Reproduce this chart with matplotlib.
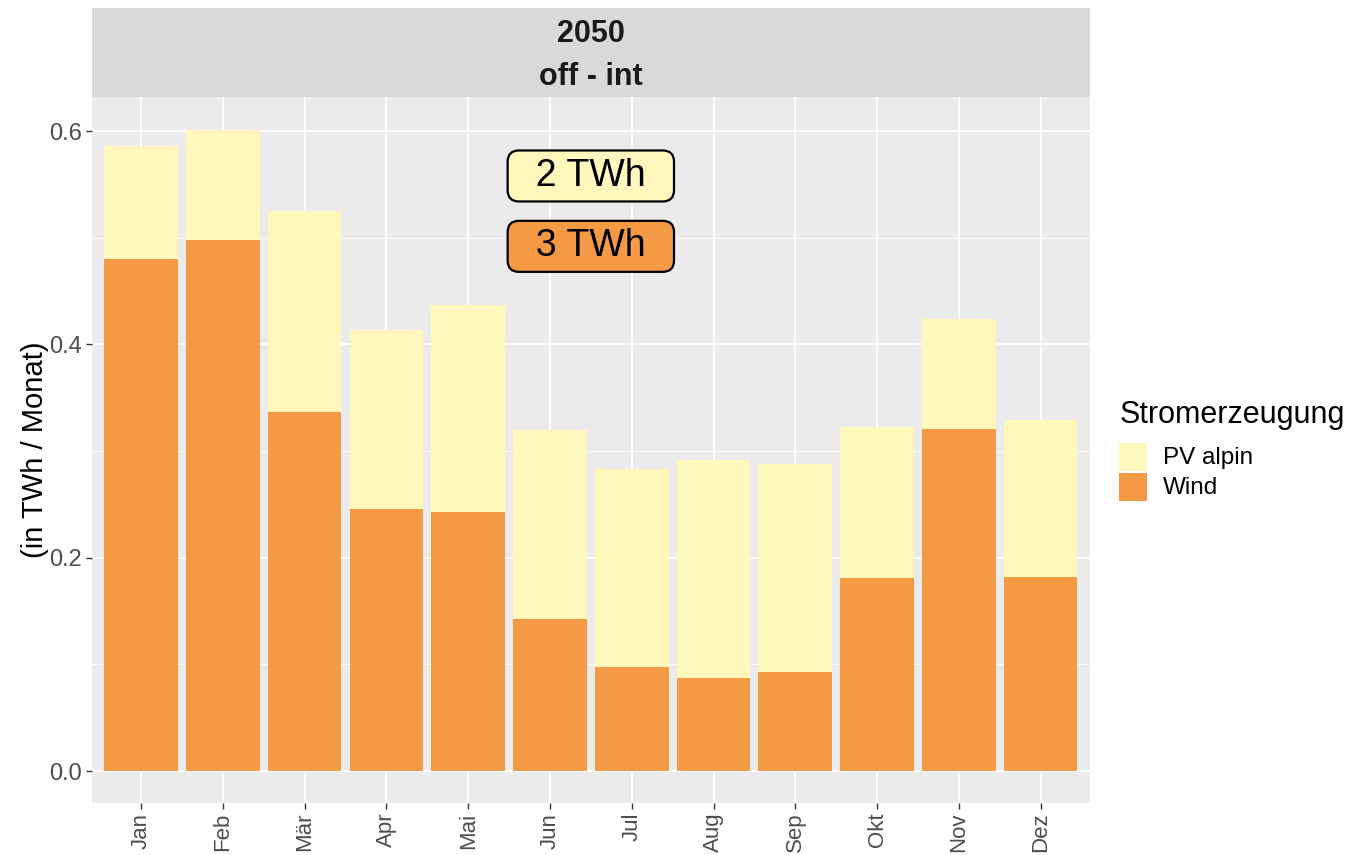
import numpy as np
import matplotlib
matplotlib.use("Agg")
import matplotlib.pyplot as plt
from matplotlib.patches import Rectangle

plt.rcParams['font.family'] = ['Liberation Sans', 'DejaVu Sans']

# Daten
monate = ["Jan", "Feb", "Mär", "Apr", "Mai", "Jun", "Jul", "Aug", "Sep", "Okt", "Nov", "Dez"]
wind = [0.480, 0.498, 0.337, 0.246, 0.243, 0.143, 0.098, 0.087, 0.093, 0.181, 0.321, 0.182]
pv_alpin = [0.106, 0.103, 0.188, 0.168, 0.194, 0.177, 0.185, 0.205, 0.195, 0.142, 0.103, 0.147]
summen = ["2 TWh", "3 TWh"]
summen_y = [0.558, 0.492]
serien = ["PV alpin", "Wind"]

farbe_pv = "#FFF7BC"
farbe_wind = "#F49A45"

W, H = 1352, 855
fig = plt.figure(figsize=(W / 100, H / 100), dpi=100)
ax = fig.add_axes([0.068, 0.0608, 0.738, 0.8257])

x = np.arange(1, len(monate) + 1)
ax.bar(x, wind, width=0.9, color=farbe_wind, zorder=3)
ax.bar(x, pv_alpin, width=0.9, bottom=wind, color=farbe_pv, zorder=3)

# Textboxen mit Summen
for txt, yy, fc in zip(summen, summen_y, [farbe_pv, farbe_wind]):
    ax.text(6.5, yy, "  " + txt + "  ", ha="center", va="center", fontsize=27, zorder=5,
            bbox=dict(boxstyle="round,pad=0.2,rounding_size=0.3", fc=fc, ec="black", lw=1.6))

ax.set_xlim(0.4, 12.6)
ax.set_ylim(-0.030, 0.632)
ax.set_facecolor("#EBEBEB")
for s in ax.spines.values():
    s.set_visible(False)
ax.set_xticks(x)
ax.set_xticklabels(monate, rotation=90, fontsize=16, color="#4D4D4D")
ax.set_yticks([0.0, 0.2, 0.4, 0.6])
ax.set_yticklabels(["0.0", "0.2", "0.4", "0.6"], fontsize=17, color="#4D4D4D")
ax.set_yticks([0.1, 0.3, 0.5], minor=True)
ax.tick_params(axis="both", which="major", color="#333333", length=4, width=1, pad=3)
ax.tick_params(axis="y", which="minor", length=0)
ax.grid(True, which="major", color="white", lw=1.3, zorder=0)
ax.grid(True, which="minor", axis="y", color="white", lw=0.6, zorder=0)
ax.set_axisbelow(True)
ax.set_ylabel("(in TWh / Monat)", fontsize=21, labelpad=0)

# Streifen oben
strip = fig.add_axes([0.068, 0.8865, 0.738, 0.1041])
strip.set_facecolor("#D9D9D9")
strip.set_xticks([])
strip.set_yticks([])
for s in strip.spines.values():
    s.set_visible(False)
strip.text(0.5, 0.71, "2050", ha="center", va="center", fontsize=22, fontweight="bold", color="#1A1A1A")
strip.text(0.5, 0.22, "off - int", ha="center", va="center", fontsize=22, fontweight="bold", color="#1A1A1A")

# Legende (von Hand)
fig.text(1120 / W, 1 - 415 / H, "Stromerzeugung", fontsize=22, va="center", ha="left")
for i, (lab, fc) in enumerate(zip(serien, [farbe_pv, farbe_wind])):
    top = 443 + i * 30
    fig.patches.append(Rectangle((1119 / W, 1 - (top + 28) / H), 28 / W, 28 / H,
                                 transform=fig.transFigure, fc=fc, ec="none"))
    fig.text(1163 / W, 1 - (top + 15) / H, lab, fontsize=17.5, va="center", ha="left")

fig.savefig("out.png", dpi=100)
